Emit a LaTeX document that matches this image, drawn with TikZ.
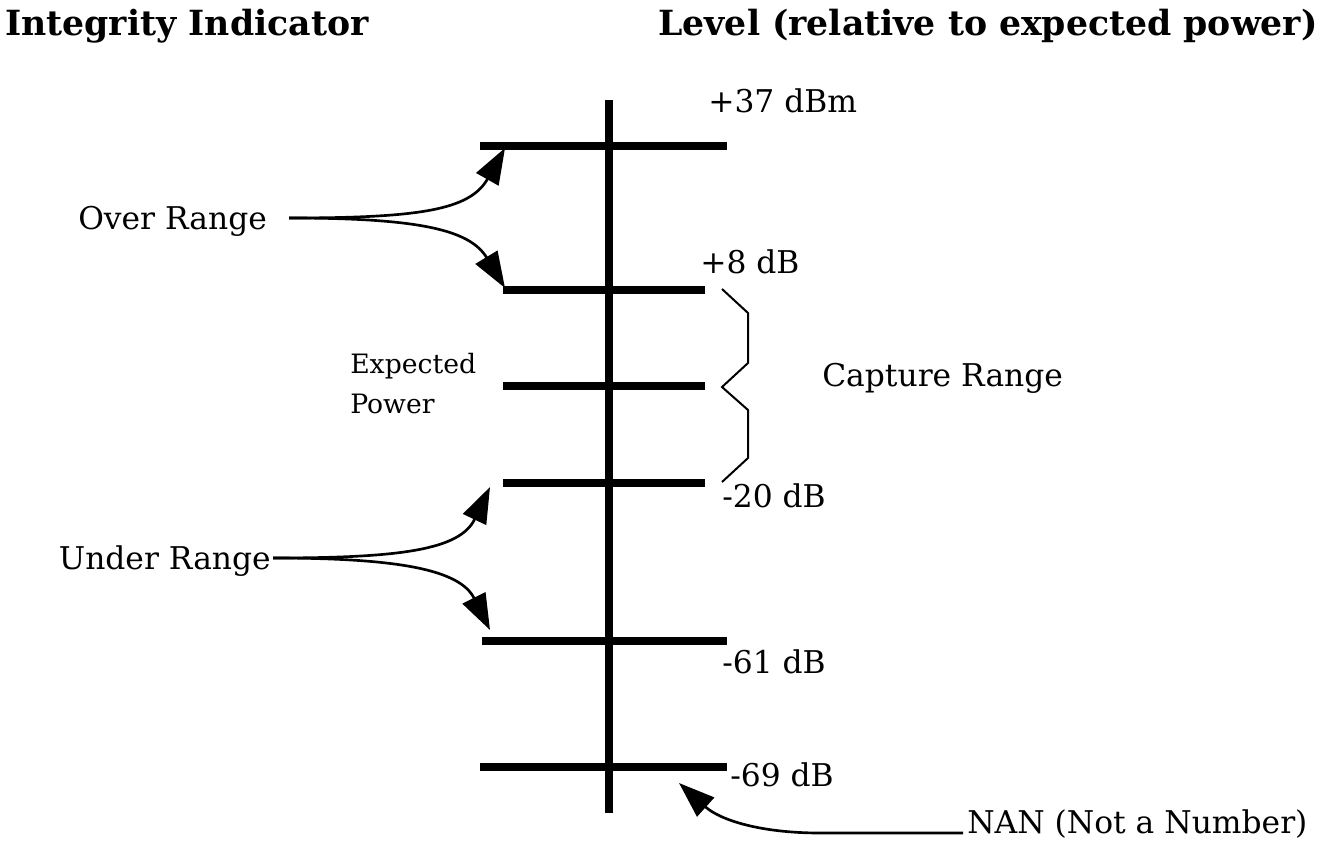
\documentclass[tikz,border=0pt]{standalone}
\usepackage{fontspec}
\setmainfont{DejaVu Serif}
\usetikzlibrary{arrows.meta}
\begin{document}
\begin{tikzpicture}[x=0.75pt,y=-0.75pt,
  bar/.style={line width=6pt},
  lbl/.style={inner sep=0pt,anchor=base west,font=\fontsize{23.5}{28}\selectfont},
  hdr/.style={inner sep=0pt,font=\fontsize{26}{31}\selectfont\bfseries},
  arr/.style={line width=2pt,-{Triangle[length=27pt,width=19pt]}},
  brace/.style={line width=1.5pt}]
\useasboundingbox (0,0) rectangle (1323,842);
% vertical axis
\coordinate (vt) at (609,100);
\coordinate (vb) at (609,813);
\draw[bar] (vt) -- (vb);
% bars
\coordinate (b1l) at (480,146); \coordinate (b1r) at (727,146);
\coordinate (b2l) at (503,290); \coordinate (b2r) at (705,290);
\coordinate (b3l) at (503,386); \coordinate (b3r) at (705,386);
\coordinate (b4l) at (503,483); \coordinate (b4r) at (705,483);
\coordinate (b5l) at (482,641); \coordinate (b5r) at (727,641);
\coordinate (b6l) at (480,767); \coordinate (b6r) at (727,767);
\draw[bar] (b1l) -- (b1r);
\draw[bar] (b2l) -- (b2r);
\draw[bar] (b3l) -- (b3r);
\draw[bar] (b4l) -- (b4r);
\draw[bar] (b5l) -- (b5r);
\draw[bar] (b6l) -- (b6r);
% headers
\node[hdr,anchor=base west] (h1) at (5,36) {Integrity Indicator};
\node[hdr,anchor=base east] (h2) at (1318,36) {Level (relative to expected power)};
% level labels
\node[lbl] (l37) at (708,112) {+37 dBm};
\node[lbl] (l8) at (700,273) {+8 dB};
\node[lbl] (l20) at (722,507) {-20 dB};
\node[lbl] (l61) at (722,673) {-61 dB};
\node[lbl] (l69) at (730,786) {-69 dB};
\node[lbl] (cap) at (822,386) {Capture Range};
\node[lbl] (nan) at (967,833) {NAN (Not a Number)};
\node[lbl] (over) at (78,229) {Over Range};
\node[lbl,anchor=base east] (under) at (271,569) {Under Range};
\node[inner sep=0pt,anchor=base west,align=left,font=\fontsize{20}{30}\selectfont] (exp) at (350,413) {Expected\\Power};
% brace
\draw[brace] (722,289) -- (748,313) -- (748,363) -- (722,387) -- (748,410) -- (748,458) -- (722,482);
% arrows
\coordinate (os) at (289,218);
\coordinate (us) at (273,558);
\coordinate (ns) at (963,833);
\draw[arr] (os) .. controls (420,218) and (470,210) .. (505,148);
\draw[arr] (os) .. controls (420,218) and (470,230) .. (505,288);
\draw[arr] (us) .. controls (400,558) and (460,550) .. (490,487);
\draw[arr] (us) .. controls (400,558) and (460,570) .. (490,630);
\draw[arr] (ns) -- (820,833) .. controls (760,833) and (720,820) .. (679,783);
\end{tikzpicture}
\end{document}
